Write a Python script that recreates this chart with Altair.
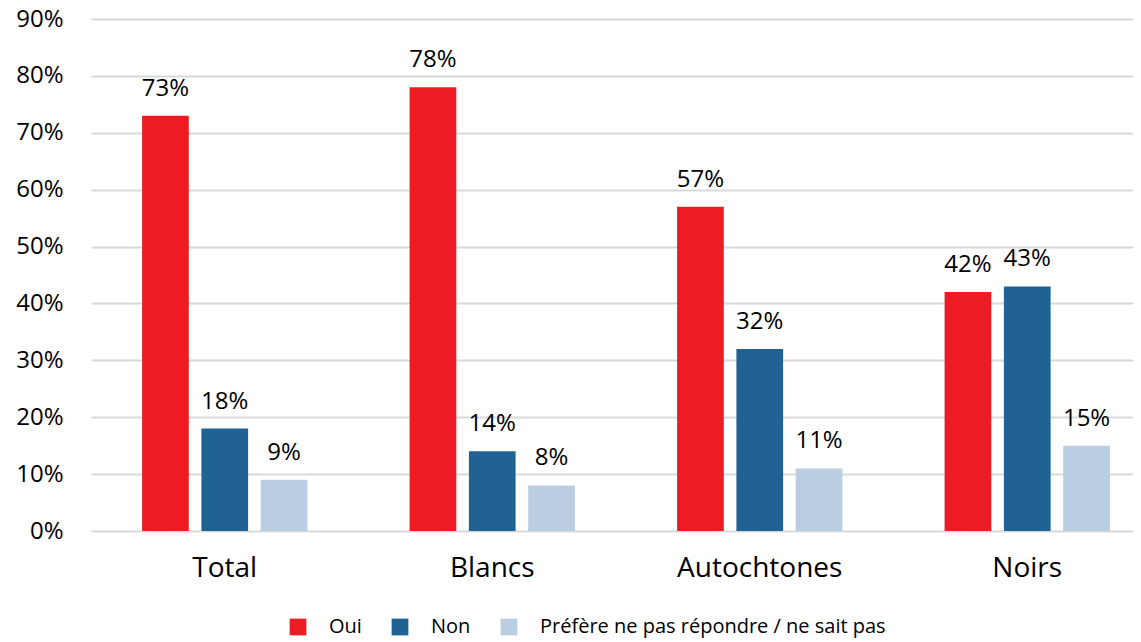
import altair as alt
import pandas as pd

groups = ["Total", "Blancs", "Autochtones", "Noirs"]
series = ["Oui", "Non", "Préfère ne pas répondre / ne sait pas"]
oui = [73, 78, 57, 42]
non = [18, 14, 32, 43]
nsp = [9, 8, 11, 15]
colors = ["#ED1C24", "#1F6293", "#BBCDE0"]
y_ticks = [0, 0.1, 0.2, 0.3, 0.4, 0.5, 0.6, 0.7, 0.8, 0.9]

rows = []
for i, g in enumerate(groups):
    for s, vals in zip(series, [oui, non, nsp]):
        rows.append({"groupe": g, "reponse": s, "valeur": vals[i] / 100,
                     "label": f"{vals[i]}%"})
df = pd.DataFrame(rows)

FONT = "Open Sans"

x_enc = alt.X(
    "groupe:N", sort=groups, title=None,
    scale=alt.Scale(range=[0, 1070], paddingInner=0.382, paddingOuter=0.191),
    axis=alt.Axis(labelAngle=0, domain=False, ticks=False, tickSize=0,
                  labelPadding=45, labelBaseline="alphabetic",
                  labelFontSize=28, labelFont=FONT, labelColor="#000000"),
)
xoff_enc = alt.XOffset("reponse:N", sort=series,
                       scale=alt.Scale(paddingInner=0.2125, paddingOuter=0))
y_enc = alt.Y(
    "valeur:Q", title=None,
    scale=alt.Scale(domain=[0, 0.9], nice=False),
    axis=alt.Axis(values=y_ticks, format=".0%", domain=False, ticks=False,
                  tickSize=0, labelPadding=28, labelFontSize=24, labelFont=FONT,
                  labelColor="#000000", gridColor="#D9D9D9", gridWidth=2),
)

bars = alt.Chart(df).mark_bar().encode(
    x=x_enc, xOffset=xoff_enc, y=y_enc,
    color=alt.Color(
        "reponse:N", sort=series,
        scale=alt.Scale(domain=series, range=colors),
        legend=alt.Legend(orient="none", legendX=197, legendY=598,
                          direction="horizontal", title=None,
                          symbolType="square", symbolSize=280,
                          symbolStrokeWidth=0, labelFontSize=20,
                          labelFont=FONT, labelColor="#000000", labelLimit=0,
                          labelOffset=21, columnPadding=28, padding=0),
    ),
)

text = alt.Chart(df).mark_text(
    dy=-20, baseline="alphabetic", fontSize=24, font=FONT, color="#000000"
).encode(x=x_enc, xOffset=xoff_enc, y=y_enc, text="label:N")

chart = alt.layer(bars, text).properties(
    width=1042, height=512,
    padding={"left": 83, "top": 11, "right": 0, "bottom": 111},
    autosize=alt.AutoSizeParams(type="none"),
).configure_view(stroke=None)

chart.save("out.html", embed_options={"renderer": "svg", "actions": False})
